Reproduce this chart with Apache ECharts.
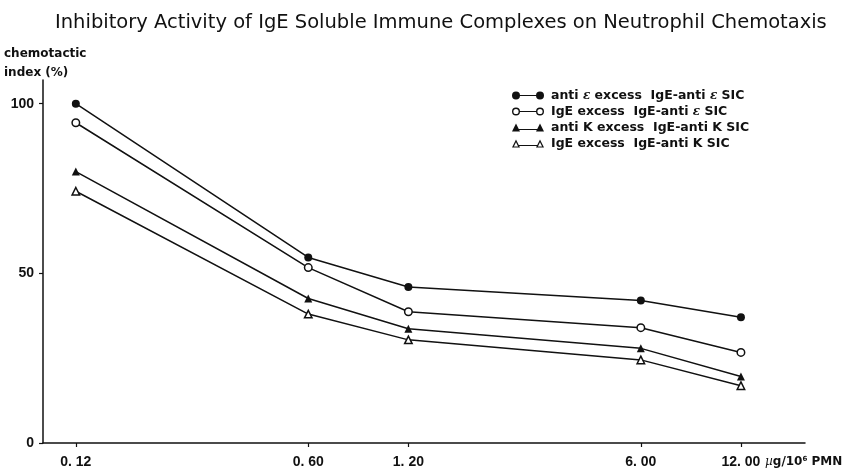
<!DOCTYPE html>
<html>
<head>
<meta charset="utf-8">
<script src="https://cdn.jsdelivr.net/npm/echarts@6/dist/echarts.min.js"></script>
<style>
  html, body { margin: 0; padding: 0; background: #fff; }
  #chart { width: 858px; height: 475px; }
</style>
</head>
<body>
<div id="chart"></div>
<script>
// dose, µg per 10^6 PMN (log scale)
const doses = [0.12, 0.60, 1.20, 6.00, 12.00]
const doseLabels = ['0. 12', '0. 60', '1. 20', '6. 00', '12. 00']
const yTicks = [0, 50, 100]

// chemotactic index (%)
const antiEpsExcess = [100, 54.7, 46.0, 42.0, 37.1]
const igeExcessEps = [94.4, 51.7, 38.7, 34.0, 26.7]
const antiKExcess = [80.0, 42.6, 33.7, 27.9, 19.6]
const igeExcessK = [74.2, 38.0, 30.4, 24.5, 16.9]

const seriesNames = [
  'anti {e|ε} excess  IgE-anti {e|ε} SIC',
  'IgE excess  IgE-anti {e|ε} SIC',
  'anti K excess  IgE-anti K SIC',
  'IgE excess  IgE-anti K SIC'
]

const ink = '#111'

// legend icons: marker — line — marker
const icons = [
  'path://M0,4a4,4 0 1,1 8,0a4,4 0 1,1 -8,0ZM7,3.4h18v1.2h-18ZM24,4a4,4 0 1,1 8,0a4,4 0 1,1 -8,0Z',
  'path://M0,4a4,4 0 1,1 8,0a4,4 0 1,1 -8,0ZM1.4,4a2.6,2.6 0 1,0 5.2,0a2.6,2.6 0 1,0 -5.2,0ZM7.5,3.4h17v1.2h-17ZM24,4a4,4 0 1,1 8,0a4,4 0 1,1 -8,0ZM25.4,4a2.6,2.6 0 1,0 5.2,0a2.6,2.6 0 1,0 -5.2,0Z',
  'path://M0,8L4,0L8,8ZM6,5.4h20v1.2h-20ZM24,8L28,0L32,8Z',
  'path://M0,8L4,0L8,8ZM1.9,7L6.1,7L4,2.8ZM6,5.4h20v1.2h-20ZM24,8L28,0L32,8ZM25.9,7L30.1,7L28,2.8Z'
]

function makeSeries(name, values, symbol, filled) {
  return {
    name: name,
    type: 'line',
    data: doses.map((d, i) => [d, values[i]]),
    symbol: symbol,
    symbolSize: filled ? 8 : 7.5,
    showAllSymbol: true,
    lineStyle: { color: ink, width: 1.5 },
    itemStyle: {
      color: filled ? ink : '#fff',
      borderColor: ink,
      borderWidth: filled ? 0 : 1.5
    },
    emphasis: { disabled: true },
    z: 3
  }
}

const chart = echarts.init(document.getElementById('chart'))

chart.setOption({
  animation: false,
  backgroundColor: '#fff',
  title: {
    text: 'Inhibitory Activity of IgE Soluble Immune Complexes on Neutrophil Chemotaxis',
    left: 50,
    top: 8,
    textStyle: {
      fontFamily: 'DejaVu Sans',
      fontSize: 19.5,
      fontWeight: 'normal',
      color: ink
    }
  },
  grid: { left: 43, right: 53, top: 80, bottom: 32 },
  legend: {
    orient: 'vertical',
    left: 507,
    top: 84,
    itemWidth: 32,
    itemHeight: 8,
    itemGap: 3,
    data: seriesNames.map((n, i) => ({ name: n, icon: icons[i] })),
    itemStyle: { color: ink, borderWidth: 0 },
    formatter: n => n,
    textStyle: {
      fontFamily: 'DejaVu Sans',
      fontSize: 12.5,
      fontWeight: 'bold',
      color: ink,
      padding: [0, 0, 0, 2],
      rich: {
        e: { fontFamily: 'DejaVu Serif', fontStyle: 'italic', fontSize: 12, color: ink }
      }
    }
  },
  xAxis: {
    type: 'log',
    logBase: 10,
    min: 0.0956,
    max: 18.7,
    axisLine: { lineStyle: { color: ink, width: 1.5 } },
    axisTick: { show: true, length: 4, customValues: doses, lineStyle: { color: ink, width: 1.2 } },
    axisLabel: {
      customValues: doses,
      formatter: v => {
        const i = doses.findIndex(d => Math.abs(d - v) < 1e-6)
        return i >= 0 ? doseLabels[i] : ''
      },
      margin: 12,
      fontFamily: 'Liberation Sans',
      fontWeight: 'bold',
      fontSize: 14,
      color: ink
    },
    minorTick: { show: false },
    splitLine: { show: false }
  },
  yAxis: {
    type: 'value',
    min: 0,
    max: 107,
    axisLine: { show: true, lineStyle: { color: ink, width: 1.5 } },
    axisTick: { show: true, length: 4, customValues: yTicks, lineStyle: { color: ink, width: 1.2 } },
    axisLabel: {
      customValues: yTicks,
      margin: 9,
      fontFamily: 'Liberation Sans',
      fontWeight: 'bold',
      fontSize: 14,
      color: ink
    },
    splitLine: { show: false }
  },
  graphic: [
    {
      type: 'text',
      left: 4,
      top: 44,
      style: {
        text: 'chemotactic\nindex (%)',
        font: 'bold 12px "DejaVu Sans"',
        lineHeight: 19,
        fill: ink
      }
    },
    {
      type: 'text',
      left: 765,
      top: 456,
      style: {
        text: '{m|µ}g/10{s|6} PMN',
        font: 'bold 12px "DejaVu Sans"',
        fill: ink,
        rich: {
          m: { font: 'italic 12px "DejaVu Serif"', fill: ink },
          s: { font: 'bold 7px "DejaVu Sans"', fill: ink, verticalAlign: 'top', padding: [0, 0, 5, 0] }
        }
      }
    }
  ],
  series: [
    makeSeries(seriesNames[0], antiEpsExcess, 'circle', true),
    makeSeries(seriesNames[1], igeExcessEps, 'circle', false),
    makeSeries(seriesNames[2], antiKExcess, 'triangle', true),
    makeSeries(seriesNames[3], igeExcessK, 'triangle', false)
  ]
})
</script>
</body>
</html>
